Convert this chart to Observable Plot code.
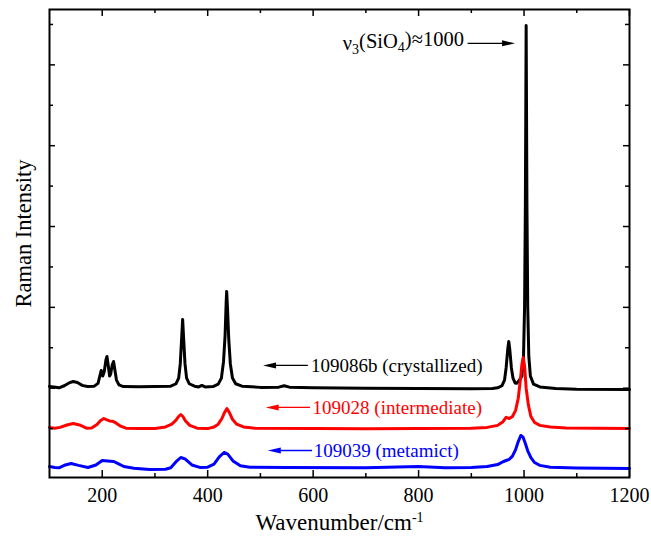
<!DOCTYPE html>
<html><head><meta charset="utf-8">
<script src="https://cdn.jsdelivr.net/npm/d3@7"></script>
<script src="https://cdn.jsdelivr.net/npm/@observablehq/plot@0.6"></script>
<style>body{margin:0;background:#fff}</style>
</head><body><div id="chart"></div>
<script>
// Raman spectra (wavenumber cm-1, intensity a.u., stacked)
const crystallized = [[100,2045],[108,2030],[118,2010],[128,2060],[137,2130],[145,2166],[153,2140],[162,2070],[172,2040],[185,2050],[192,2120],[196,2330],[198,2438],[201,2300],[204,2420],[207,2700],[209,2785],[211,2600],[214,2300],[216,2350],[219,2580],[221.5,2661],[224,2450],[227,2200],[232,2080],[240,2040],[270,2035],[300,2040],[330,2050],[340,2110],[345,2250],[348,2600],[350.5,3200],[352.5,3701],[354.5,3200],[357,2600],[360,2250],[365,2110],[375,2050],[383,2030],[389,2067],[395,2030],[410,2040],[420,2100],[426,2250],[430,2650],[433,3300],[435,4100],[436,4394],[437.5,4000],[440,3200],[443,2600],[447,2250],[453,2110],[465,2050],[500,2020],[535,2025],[545,2060],[555,2025],[600,2010],[700,2000],[800,1990],[900,1985],[940,1995],[950,2010],[958,2060],[963,2200],[966,2500],[969,2950],[971,3156],[973,2950],[976,2500],[979,2250],[983,2130],[986,2120],[991,2200],[996,2300],[999,2800],[1001,4000],[1002.5,6500],[1004,10977],[1005.5,6500],[1007,4000],[1009,2800],[1012,2300],[1018,2100],[1030,2030],[1060,1990],[1100,1975],[1200,1968]];
const intermediate = [[100,1028],[110,1010],[120,1030],[133,1090],[145,1127],[157,1090],[170,1010],[180,1015],[190,1100],[197,1200],[203,1250],[209,1215],[214,1190],[220,1180],[226,1140],[235,1060],[245,1010],[270,1000],[300,1005],[320,1040],[332,1110],[340,1210],[345,1300],[349,1349],[353,1300],[358,1190],[366,1080],[380,1010],[400,1000],[412,1040],[420,1110],[427,1250],[432,1400],[436.5,1498],[441,1400],[447,1230],[455,1110],[468,1040],[490,1010],[600,1000],[700,995],[800,1000],[900,1010],[930,1030],[950,1080],[960,1170],[966,1280],[972,1250],[978,1300],[984,1450],[989,1750],[993,2200],[996,2600],[998.5,2760],[1001,2550],[1004,2000],[1008,1600],[1013,1300],[1020,1150],[1030,1080],[1050,1040],[1080,1015],[1200,1003]];
const metamict = [[100,62],[110,40],[118,30],[130,100],[141,137],[155,90],[173,38],[188,100],[200,211],[210,200],[222,186],[232,120],[241,62],[260,20],[290,-12],[320,-5],[330,30],[340,180],[349,285],[357,250],[370,100],[385,40],[400,45],[412,120],[422,300],[431,409],[438,370],[448,200],[462,80],[480,45],[550,40],[700,30],[800,60],[850,30],[900,40],[930,60],[950,110],[960,180],[966,211],[972,240],[978,320],[984,480],[989,680],[994,830],[998,790],[1002,650],[1007,450],[1013,280],[1020,160],[1030,90],[1050,45],[1100,25],[1200,13]];

const seriesNames = ["109086b (crystallized)", "109028 (intermediate)", "109039 (metamict)"];
const seriesColors = ["#000000", "#ff0000", "#0000ff"];
const seriesData = [crystallized, intermediate, metamict];
// label arrows: [tip x, tail x, y]
const labelArrows = [[505, 590, 2562], [510, 594, 1523], [514, 598, 458]];
const labelTextX = [596, 599, 601];
const peakLabel = {text: "ν3(SiO4)≈1000", x: 886, tailX: 893, tipX: 983, y: 10532};
const yTitle = {text: "Raman Intensity", x: 52, y: 5829};

const xMajor = [200, 400, 600, 800, 1000, 1200];
const xMinor = [300, 500, 700, 900, 1100];
const yMajor = [2000, 4000, 6000, 8000, 10000];
const yMinor = [1000, 3000, 5000, 7000, 9000, 11000];

const W = 651, H = 536, mt = 9, mr = 22, mb = 59, ml = 49;
const innerW = W - ml - mr, innerH = H - mt - mb;
const font = "'Liberation Serif', 'Times New Roman', serif";

const headSymbol = {draw(ctx) { ctx.moveTo(0, 0); ctx.lineTo(-13, -3); ctx.lineTo(-13, 3); ctx.closePath(); }};

const marks = [];
seriesData.forEach((pts, i) => {
  marks.push(Plot.line(pts, {x: d => d[0], y: d => d[1], stroke: seriesColors[i], strokeWidth: 3, strokeLinejoin: "round"}));
});
// ticks (inward)
const tk = {stroke: "black", strokeWidth: 1.5};
marks.push(
  Plot.ruleX(xMajor, {...tk, insetTop: innerH - 7}),
  Plot.ruleX(xMinor, {...tk, insetTop: innerH - 4}),
  Plot.ruleX(xMajor, {...tk, insetBottom: innerH - 7}),
  Plot.ruleX(xMinor, {...tk, insetBottom: innerH - 4}),
  Plot.ruleY(yMajor, {...tk, insetRight: innerW - 6}),
  Plot.ruleY(yMinor, {...tk, insetRight: innerW - 4}),
  Plot.ruleY(yMajor, {...tk, insetLeft: innerW - 6}),
  Plot.ruleY(yMinor, {...tk, insetLeft: innerW - 4}),
  Plot.frame({stroke: "black", strokeWidth: 2}),
  Plot.axisX(xMajor, {tickSize: 0, tickPadding: 10, fontSize: 20, tickFormat: d => String(d), label: null, fill: "black"}),
  Plot.text(["Wavenumber/cm"], {frameAnchor: "bottom", dy: 52, fontSize: 23, fill: "black"}),
  Plot.text([yTitle], {x: "x", y: "y", text: "text", rotate: -90, fontSize: 22.5, fill: "black"})
);
labelArrows.forEach(([tip, tail, y], i) => {
  marks.push(
    Plot.link([0], {x1: tail, x2: tip + 10, y1: y, y2: y, stroke: seriesColors[i], strokeWidth: 1.3}),
    Plot.dot([0], {x: tip, y: y, symbol: headSymbol, rotate: 180, fill: seriesColors[i], stroke: "none"}),
    Plot.text([seriesNames[i]], {x: labelTextX[i], y: y, textAnchor: "start", fontSize: 19, fill: seriesColors[i]})
  );
});
marks.push(
  Plot.link([0], {x1: peakLabel.tailX, x2: peakLabel.tipX - 18, y1: peakLabel.y, y2: peakLabel.y, stroke: "black", strokeWidth: 1.3}),
  Plot.dot([0], {x: peakLabel.tipX, y: peakLabel.y, symbol: headSymbol, fill: "black", stroke: "none"}),
  Plot.text([peakLabel.text], {x: peakLabel.x, y: peakLabel.y, textAnchor: "end", fontSize: 20.5, fill: "black"})
);

const chart = Plot.plot({
  width: W, height: H,
  marginTop: mt, marginRight: mr, marginBottom: mb, marginLeft: ml,
  x: {domain: [100, 1200]},
  y: {domain: [-210, 11370], axis: null},
  style: {fontFamily: font, background: "white", color: "black"},
  marks
});
document.getElementById("chart").appendChild(chart);

// superscript / subscripts
d3.select(chart).selectAll("text").each(function() {
  const t = this.textContent;
  const sel = d3.select(this);
  if (t === "Wavenumber/cm") {
    sel.append("tspan").attr("dy", "-0.55em").attr("font-size", 14).text("-1");
  } else if (t === peakLabel.text) {
    sel.text(null);
    sel.append("tspan").text("ν");
    sel.append("tspan").attr("dy", "0.3em").attr("font-size", 14).text("3");
    sel.append("tspan").attr("dy", "-0.3em").text("(SiO");
    sel.append("tspan").attr("dy", "0.3em").attr("font-size", 14).text("4");
    sel.append("tspan").attr("dy", "-0.3em").text(")≈1000");
  }
});
</script>
</body></html>
